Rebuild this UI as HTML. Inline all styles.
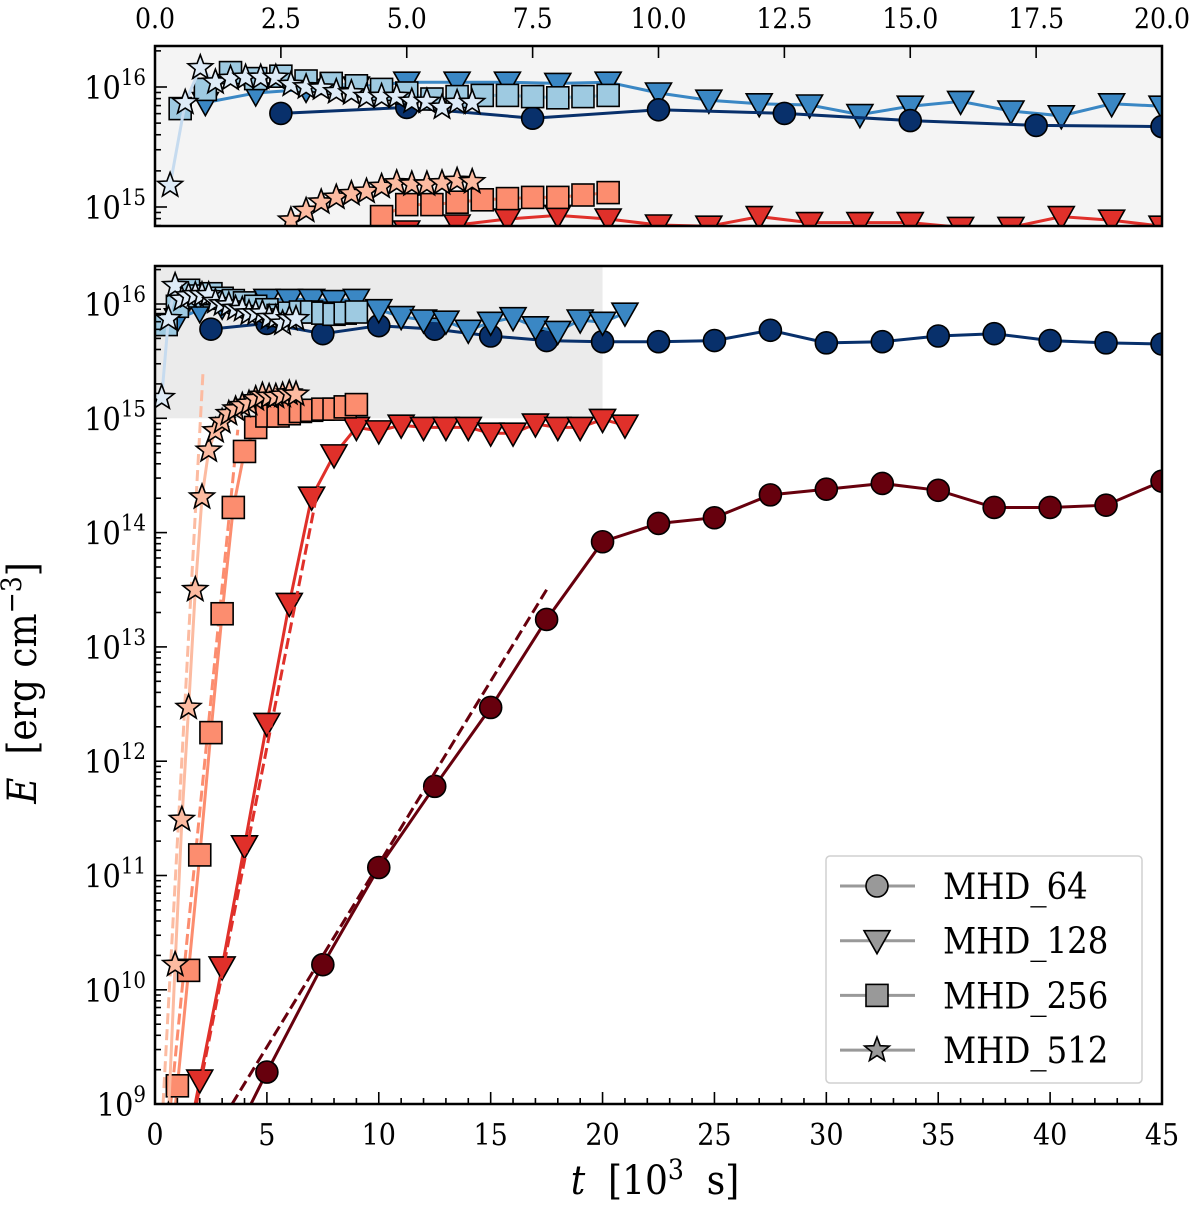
<!DOCTYPE html>
<html><head><meta charset="utf-8"><style>
body{margin:0;background:#fff;overflow:hidden}
svg{display:block}
svg text{font-family:"DejaVu Serif Condensed","DejaVu Serif","Liberation Serif",serif;fill:#000}
</style></head><body>
<svg id="fig" width="1200" height="1206" viewBox="0 0 1200 1206" xmlns="http://www.w3.org/2000/svg">
<defs>
<clipPath id="clipMain"><rect x="155" y="266" width="1007" height="838"/></clipPath>
<clipPath id="clipIns"><rect x="155" y="46" width="1007" height="180"/></clipPath>
</defs>
<rect x="155" y="46" width="1007" height="180" fill="#f4f4f4"/>
<g id="insetG" clip-path="url(#clipIns)"></g>
<rect x="155" y="46" width="1007" height="180" fill="none" stroke="#000" stroke-width="2.5"/>
<g id="insetTicks"></g>
<rect id="zoomRegion" fill="#ebebeb"/>
<g id="mainG" clip-path="url(#clipMain)"></g>
<rect x="155" y="266" width="1007" height="838" fill="none" stroke="#000" stroke-width="2.5"/>
<g id="mainTicks"></g>
<text x="655" y="1194" font-size="40" text-anchor="middle" xml:space="preserve"><tspan font-style="italic">t</tspan>  [10<tspan font-size="28" dy="-15">3</tspan><tspan dy="15">  s]</tspan></text>
<text transform="translate(36,683) rotate(-90)" font-size="40" text-anchor="middle" xml:space="preserve"><tspan font-style="italic">E</tspan>  [erg cm<tspan font-size="28" dy="-15">−3</tspan><tspan dy="15">]</tspan></text>
<g>
<rect x="826" y="856" width="316" height="227" rx="4" fill="#fff" fill-opacity="0.9" stroke="#d0d0d0" stroke-width="1.5"/>
<g id="legendG"></g>
</g>
</svg>
<script>
// ---- data (t in 10^3 s, values are log10 E) ----
const t64 = [2.5,5,7.5,10,12.5,15,17.5,20,22.5,25,27.5,30,32.5,35,37.5,40,42.5,45];
const kin64 = [15.78,15.83,15.74,15.81,15.78,15.72,15.68,15.67,15.67,15.68,15.77,15.66,15.67,15.72,15.74,15.68,15.66,15.65];
const mag64 = [8.3,9.28,10.22,11.07,11.78,12.47,13.24,13.92,14.08,14.13,14.33,14.38,14.43,14.37,14.22,14.22,14.24,14.45];
const t128 = [1,2,3,4,5,6,7,8,9,10,11,12,13,14,15,16,17,18,19,20,21];
const kin128 = [15.87,15.95,15.98,16.0,16.04,16.04,16.04,16.03,16.04,15.95,15.89,15.86,15.85,15.77,15.84,15.88,15.80,15.76,15.86,15.84,15.92];
const mag128 = [8.2,9.21,10.20,11.26,12.33,13.38,14.31,14.68,14.92,14.89,14.94,14.92,14.92,14.92,14.87,14.87,14.95,14.92,14.92,14.99,14.94];
const mag128Inset = [13.9,14.3,14.6,14.7,14.8,14.85,14.9,14.93,14.90,14.85,14.84,14.92,14.87,14.87,14.87,14.83,14.83,14.92,14.89,14.84,14.93];
const t256 = [0.5,1,1.5,2,2.5,3,3.5,4,4.5,5,5.5,6,6.5,7,7.5,8,8.5,9];
const kin256 = [15.82,15.98,16.12,16.07,16.09,16.05,16.03,16.01,15.98,15.95,15.90,15.92,15.93,15.93,15.92,15.91,15.92,15.93];
const mag256 = [8.2,9.16,10.17,11.18,12.25,13.29,14.22,14.71,14.92,15.02,15.02,15.04,15.06,15.07,15.08,15.08,15.10,15.12];
const t512 = [0.3,0.6,0.9,1.2,1.5,1.8,2.1,2.4,2.7,3.0,3.3,3.6,3.9,4.2,4.5,4.8,5.1,5.4,5.7,6.0,6.3];
const kin512 = [15.18,15.87,16.16,16.04,16.07,16.08,16.08,16.08,16.02,16.0,15.99,15.96,15.95,15.92,15.92,15.92,15.88,15.88,15.83,15.87,15.87];
const mag512 = [7.5,8.9,10.22,11.49,12.47,13.5,14.31,14.72,14.89,14.97,15.04,15.08,15.11,15.13,15.17,15.2,15.19,15.19,15.2,15.22,15.21];
const fit64T = [3.44,17.5];  const fit64V = [9.0,13.5];
const fit128T = [1.85,7.3];  const fit128V = [9.0,14.4];
const fit256T = [0.7,3.7];   const fit256V = [9.0,14.9];
const fit512T = [0.36,2.15]; const fit512V = [9.0,15.42];
const mainXTicks = [0,5,10,15,20,25,30,35,40,45];
const insetXTicks = ["0.0","2.5","5.0","7.5","10.0","12.5","15.0","17.5","20.0"];
const mainYTicks = [9,10,11,12,13,14,15,16];
const insetYTicks = [15,16];
const legendNames = ["MHD_64","MHD_128","MHD_256","MHD_512"];

// ---- axes ----
const NS="http://www.w3.org/2000/svg";
const mx = t => 155 + t*(1007/45);
const my = v => 304 + (16 - v)*114.3;
const ix = t => 155 + t*(1007/20);
const iy = v => 87 + (16 - v)*120;

function mk(tag, attrs, parent){const e=document.createElementNS(NS,tag);for(const k in attrs)e.setAttribute(k,attrs[k]);parent.appendChild(e);return e;}

function marker(kind, x, y, fill, parent){
  let e;
  if(kind==='o'){e=mk('circle',{cx:x,cy:y,r:11},parent);}
  else if(kind==='v'){e=mk('path',{d:`M${x-13},${y-10}L${x+13},${y-10}L${x},${y+13}Z`},parent);}
  else if(kind==='s'){e=mk('rect',{x:x-11,y:y-11,width:22,height:22},parent);}
  else {let d='';for(let i=0;i<10;i++){const r=i%2?5.5:13;const a=-Math.PI/2+i*Math.PI/5;d+=(i?'L':'M')+(x+r*Math.cos(a)).toFixed(1)+','+(y+r*Math.sin(a)).toFixed(1);}e=mk('path',{d:d+'Z'},parent);}
  e.setAttribute('fill',fill);e.setAttribute('stroke','#000');e.setAttribute('stroke-width','1.6');
  return e;
}
function series(parent, ts, vs, X, Y, kind, fill, line, name){
  const g=mk('g',{},parent);
  
  
  const pts=ts.map((t,i)=>X(t).toFixed(1)+','+Y(vs[i]).toFixed(1)).join(' ');
  mk('polyline',{points:pts,fill:'none',stroke:line,'stroke-width':3},g);
  ts.forEach((t,i)=>{const m=marker(kind,X(t),Y(vs[i]),fill,g);
    
    });
}
function fitLine(parent, ts, vs, col, name){
  const l=mk('line',{x1:mx(ts[0]),y1:my(vs[0]),x2:mx(ts[1]),y2:my(vs[1]),stroke:col,'stroke-width':3,'stroke-dasharray':'11,5'},parent);
  
  
}
const C={k64:'#08306b',k128:'#3a87c4',k256:'#9ecae1',k512:'#deebf7',k512l:'#c6dbef',
         m64:'#67000d',m128:'#e0302a',m256:'#fc8d6f',m512:'#fcbba1'};

const zr=document.getElementById('zoomRegion');
zr.setAttribute('x',mx(0));zr.setAttribute('width',mx(20)-mx(0));
zr.setAttribute('y',266);zr.setAttribute('height',my(15)-266);

const M=document.getElementById('mainG');
fitLine(M,fit512T,fit512V,C.m512,'fit-512');
fitLine(M,fit256T,fit256V,C.m256,'fit-256');
series(M,t64,mag64,mx,my,'o',C.m64,C.m64,'magnetic-64');
fitLine(M,fit64T,fit64V,C.m64,'fit-64');
series(M,t128,mag128,mx,my,'v',C.m128,C.m128,'magnetic-128');
fitLine(M,fit128T,fit128V,C.m128,'fit-128');
series(M,t256,mag256,mx,my,'s',C.m256,C.m256,'magnetic-256');
series(M,t512,mag512,mx,my,'*',C.m512,C.m512,'magnetic-512');
series(M,t64,kin64,mx,my,'o',C.k64,C.k64,'kinetic-64');
series(M,t128,kin128,mx,my,'v',C.k128,C.k128,'kinetic-128');
series(M,t256,kin256,mx,my,'s',C.k256,C.k256,'kinetic-256');
series(M,t512,kin512,mx,my,'*',C.k512,C.k512l,'kinetic-512');

const I=document.getElementById('insetG');
const t64i=t64.filter(t=>t<=20), k64i=kin64.slice(0,t64i.length);
series(I,t128,mag128Inset,ix,iy,'v',C.m128,C.m128,'inset-magnetic-128');
series(I,t256,mag256,ix,iy,'s',C.m256,C.m256,'inset-magnetic-256');
series(I,t512,mag512,ix,iy,'*',C.m512,C.m512,'inset-magnetic-512');
series(I,t128,kin128,ix,iy,'v',C.k128,C.k128,'inset-kinetic-128');
series(I,t64i,k64i,ix,iy,'o',C.k64,C.k64,'inset-kinetic-64');
series(I,t256,kin256,ix,iy,'s',C.k256,C.k256,'inset-kinetic-256');
series(I,t512,kin512,ix,iy,'*',C.k512,C.k512l,'inset-kinetic-512');

const MT=document.getElementById('mainTicks');
for(let t=0;t<=45;t++){const major=t%5===0;
  mk('line',{x1:mx(t),x2:mx(t),y1:1104,y2:1104-(major?12:6),stroke:'#000','stroke-width':1.6},MT);}
mainXTicks.forEach(t=>{const e=mk('text',{x:mx(t),y:1145,'font-size':30,'text-anchor':'middle'},MT);e.textContent=t;
  
  });
function yTicks(par,Y,vals,lo,hi,xr){
  for(let d=Math.floor(lo);d<hi;d++){for(let k=1;k<10;k++){const v=d+Math.log10(k);if(v<lo-0.001||v>hi)continue;
    const yy=Y(v);mk('line',{x1:155,x2:155+(k===1?12:6),y1:yy,y2:yy,stroke:'#000','stroke-width':1.6},par);}}
  vals.forEach(v=>{const e=mk('text',{x:xr,y:Y(v)+12,'font-size':32,'text-anchor':'end'},par);
    
    
    const a=document.createElementNS(NS,'tspan');a.textContent='10';e.appendChild(a);
    const b=document.createElementNS(NS,'tspan');b.setAttribute('font-size','22');b.setAttribute('dy','-14');b.textContent=v;e.appendChild(b);});
}
yTicks(MT,my,mainYTicks,9,16.33,146);
const IT=document.getElementById('insetTicks');
for(let i=0;i<=8;i++){const x=ix(i*2.5);mk('line',{x1:x,x2:x,y1:46,y2:58,stroke:'#000','stroke-width':1.6},IT);}
insetXTicks.forEach((s,i)=>{const e=mk('text',{x:ix(i*2.5),y:28,'font-size':28,'text-anchor':'middle'},IT);e.textContent=s;
  
  });
yTicks(IT,iy,insetYTicks,14.84,16.34,146);
[...IT.querySelectorAll('line')].forEach(l=>{const y=+l.getAttribute('y1');if(l.getAttribute('x1')==='155'&&(y<46||y>226))l.remove();});

const L=document.getElementById('legendG');
const kinds=['o','v','s','*'];
legendNames.forEach((n,i)=>{const y=886+i*54.7;
  const g=mk('g',{},L);
  
  
  mk('line',{x1:840,x2:915,y1:y,y2:y,stroke:'#999','stroke-width':3},g);
  marker(kinds[i],877,y,'#999',g);
  const e=mk('text',{x:943,y:y+13,'font-size':36},g);e.textContent=n;});
</script>
</body></html>
